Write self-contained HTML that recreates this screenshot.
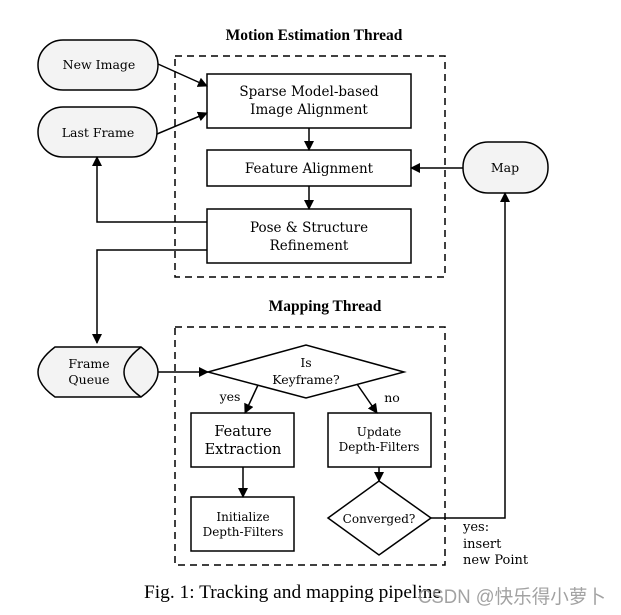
<!DOCTYPE html>
<html><head><meta charset="utf-8"><style>body{margin:0;background:#fff}svg{display:block}</style></head><body>
<svg width="621" height="615" viewBox="0 0 621 615" xmlns="http://www.w3.org/2000/svg" font-family="'DejaVu Serif','Liberation Serif',serif">
<defs><marker id="a" markerWidth="10" markerHeight="10" refX="9" refY="5" orient="auto" markerUnits="userSpaceOnUse"><path d="M0,0 L10,5 L0,10 z" fill="#000"/></marker></defs>
<g fill="none" stroke="#000" stroke-width="1.5">
<rect x="175" y="56" width="270" height="221" stroke-dasharray="7,5"/>
<rect x="175" y="327" width="270" height="238" stroke-dasharray="7,5"/>
</g>
<g stroke="#000" stroke-width="1.5">
<rect x="38" y="40" width="120" height="50" rx="25" fill="#f3f3f3"/>
<rect x="38" y="107" width="119" height="50" rx="25" fill="#f3f3f3"/>
<rect x="463" y="142" width="85" height="51" rx="25" fill="#f3f3f3"/>
<rect x="207" y="74" width="204" height="54" fill="#fff"/>
<rect x="207" y="150" width="204" height="36" fill="#fff"/>
<rect x="207" y="209" width="204" height="54" fill="#fff"/>
<path d="M55,347 L141,347 Q158,360 158,372 Q158,385 141,397 L55,397 Q38,385 38,372 Q38,360 55,347 Z" fill="#f3f3f3"/>
<path d="M141,347 Q124,360 124,372 Q124,385 141,397" fill="none"/>
<polygon points="208,372 306,345 404,372 306,398" fill="#fff"/>
<rect x="191" y="413" width="103" height="54" fill="#fff"/>
<rect x="328" y="413" width="103" height="54" fill="#fff"/>
<rect x="191" y="497" width="103" height="54" fill="#fff"/>
<polygon points="328,518 379,481 431,518 379,555" fill="#fff"/>
</g>
<g fill="none" stroke="#000" stroke-width="1.5" marker-end="url(#a)">
<line x1="158" y1="64" x2="207" y2="86"/>
<line x1="157" y1="134" x2="207" y2="113"/>
<line x1="309" y1="128" x2="309" y2="150"/>
<line x1="309" y1="186" x2="309" y2="209"/>
<line x1="463" y1="168" x2="411" y2="168"/>
<polyline points="207,222 97,222 97,157"/>
<polyline points="207,250 97,250 97,343"/>
<line x1="158" y1="372" x2="208" y2="372"/>
<line x1="258" y1="385" x2="245" y2="413"/>
<line x1="357" y1="384" x2="377" y2="413"/>
<line x1="243" y1="467" x2="243" y2="497"/>
<line x1="379" y1="467" x2="379" y2="481"/>
<polyline points="431,518 505,518 505,193"/>
</g>
<g font-size="13.5" text-anchor="middle" fill="#000">
<text x="314" y="40" font-weight="bold" font-family="'Liberation Serif',serif" font-size="15.5">Motion Estimation Thread</text>
<text x="325" y="311" font-weight="bold" font-family="'Liberation Serif',serif" font-size="15.5">Mapping Thread</text>
<text x="99" y="69" font-size="12.5">New Image</text>
<text x="98" y="137" font-size="12.5">Last Frame</text>
<text x="505" y="172" font-size="12.5">Map</text>
<text x="309" y="96">Sparse Model-based</text>
<text x="309" y="114">Image Alignment</text>
<text x="309" y="173">Feature Alignment</text>
<text x="309" y="232">Pose &amp; Structure</text>
<text x="309" y="250">Refinement</text>
<text x="89" y="368" font-size="12.5">Frame</text>
<text x="89" y="384" font-size="12.5">Queue</text>
<text x="306" y="367" font-size="12.5">Is</text>
<text x="306" y="384" font-size="12.5">Keyframe?</text>
<text x="230" y="401" font-size="12.5">yes</text>
<text x="392" y="402" font-size="12.5">no</text>
<text x="243" y="436" font-size="14.5">Feature</text>
<text x="243" y="454" font-size="14.5">Extraction</text>
<text x="379" y="436" font-size="12">Update</text>
<text x="379" y="451" font-size="12">Depth-Filters</text>
<text x="243" y="521" font-size="12">Initialize</text>
<text x="243" y="536" font-size="12">Depth-Filters</text>
<text x="379" y="523" font-size="12">Converged?</text>
</g>
<g font-size="13" fill="#000">
<text x="463" y="531">yes:</text>
<text x="463" y="548">insert</text>
<text x="463" y="564">new Point</text>
</g>
<text x="144" y="598" font-family="'Liberation Serif',serif" font-size="19" textLength="297" lengthAdjust="spacingAndGlyphs">Fig. 1: Tracking and mapping pipeline</text>
<text x="418" y="603" font-family="'Liberation Sans','Noto Sans CJK SC',sans-serif" font-size="19" fill="#999" opacity="0.9" textLength="188" lengthAdjust="spacingAndGlyphs">CSDN @快乐得小萝卜</text>
</svg>
</body></html>
